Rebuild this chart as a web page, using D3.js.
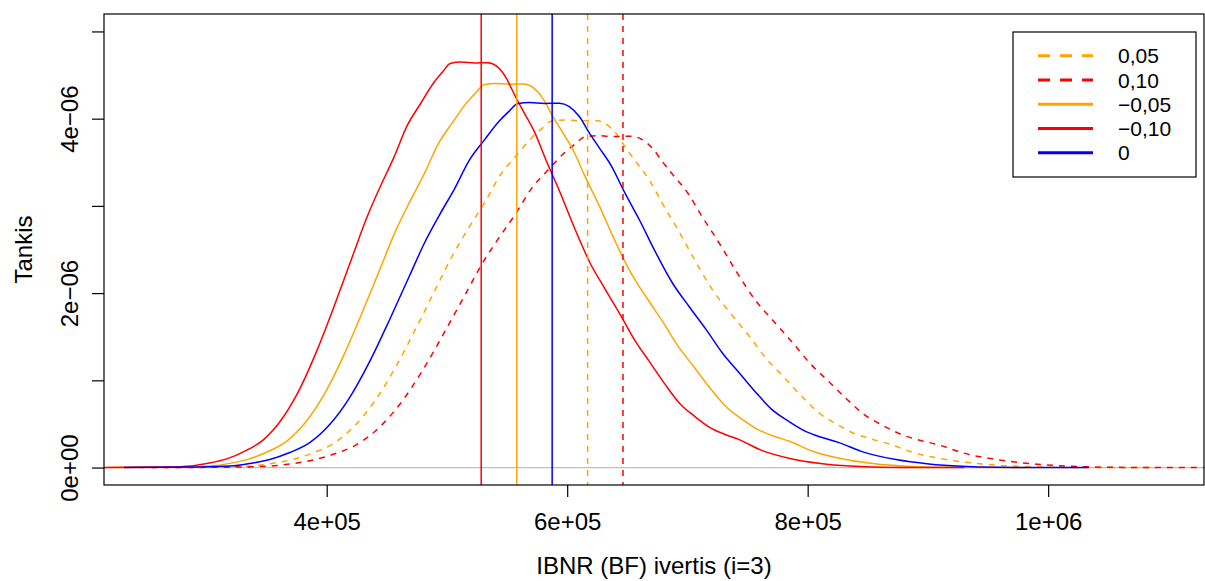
<!DOCTYPE html>
<html>
<head>
<meta charset="utf-8">
<script src="https://cdn.jsdelivr.net/npm/d3@7"></script>
<style>
  body { margin: 0; background: #fff; }
  text { font-family: "Liberation Sans", Arial, Helvetica, sans-serif; }
</style>
</head>
<body>
<div id="chart-area"></div>
<script>
// density curves: x in thousands, density in 1e-6
const seriesNames = ["0,05", "0,10", "\u22120,05", "\u22120,10", "0"];
const meanValues = [617.0, 646.4, 558.1, 528.5, 587.5];

const x0_k = [231.4, 294.5, 319.4, 336.0, 352.7, 369.3, 385.9, 402.5, 419.1, 435.7, 452.3, 468.9, 481.4, 493.9, 506.3, 518.8, 531.2, 543.7, 552.0, 558.6, 568.6, 581.1, 593.5, 601.8, 610.1, 618.4, 626.7, 636.7, 646.7, 660.0, 673.3, 687.4, 701.5, 715.6, 728.9, 743.0, 757.1, 770.4, 784.5, 798.7, 812.0, 826.1, 845.2, 873.4, 900.8, 928.2, 956.5, 992.2, 1033.7];
const y0_u = [0, 0.006, 0.017, 0.046, 0.092, 0.172, 0.286, 0.493, 0.802, 1.214, 1.695, 2.199, 2.577, 2.898, 3.196, 3.528, 3.757, 3.975, 4.089, 4.170, 4.184, 4.175, 4.178, 4.139, 4.024, 3.837, 3.666, 3.459, 3.184, 2.841, 2.474, 2.119, 1.844, 1.581, 1.317, 1.088, 0.859, 0.664, 0.527, 0.412, 0.344, 0.286, 0.183, 0.092, 0.042, 0.015, 0.003, 0, 0];

const xm10_k = [208.3, 265.1, 287.5, 302.4, 317.4, 332.4, 347.3, 362.3, 377.2, 392.1, 407.1, 422.0, 433.3, 444.5, 455.7, 466.9, 478.1, 489.3, 496.8, 502.7, 511.7, 523.0, 534.2, 541.6, 549.1, 556.6, 564.0, 573.0, 582.0, 594.0, 606.0, 618.7, 631.4, 644.0, 656.0, 668.7, 681.4, 693.4, 706.1, 718.8, 730.8, 743.5, 760.7, 786.1, 810.7, 835.4, 860.9, 893.0, 930.3];
const ym10_u = [0, 0.007, 0.019, 0.051, 0.102, 0.191, 0.318, 0.548, 0.891, 1.349, 1.883, 2.443, 2.863, 3.220, 3.551, 3.920, 4.174, 4.417, 4.543, 4.633, 4.649, 4.639, 4.642, 4.599, 4.471, 4.263, 4.073, 3.843, 3.538, 3.157, 2.749, 2.354, 2.049, 1.757, 1.463, 1.209, 0.954, 0.738, 0.586, 0.458, 0.382, 0.318, 0.203, 0.102, 0.047, 0.017, 0.003, 0, 0];

const xm05_k = [219.8, 279.8, 303.4, 319.2, 335.1, 350.8, 366.6, 382.4, 398.1, 413.9, 429.7, 445.5, 457.3, 469.2, 481.0, 492.9, 504.6, 516.5, 524.4, 530.7, 540.2, 552.0, 563.8, 571.7, 579.6, 587.5, 595.4, 604.9, 614.4, 627.0, 639.6, 653.0, 666.4, 679.8, 692.5, 705.9, 719.2, 731.9, 745.3, 758.8, 771.4, 784.8, 802.9, 829.7, 855.8, 881.8, 908.7, 942.6, 982.0];
const ym05_u = [0, 0.006, 0.018, 0.048, 0.097, 0.181, 0.301, 0.519, 0.844, 1.278, 1.784, 2.315, 2.713, 3.051, 3.364, 3.714, 3.955, 4.184, 4.304, 4.389, 4.404, 4.395, 4.398, 4.357, 4.236, 4.039, 3.859, 3.641, 3.352, 2.991, 2.604, 2.231, 1.941, 1.664, 1.386, 1.145, 0.904, 0.699, 0.555, 0.434, 0.362, 0.301, 0.193, 0.097, 0.044, 0.016, 0.003, 0, 0];

const xp05_k = [243.0, 309.2, 335.4, 352.8, 370.3, 387.8, 405.2, 422.6, 440.1, 457.5, 474.9, 492.3, 505.5, 518.6, 531.6, 544.7, 557.8, 570.9, 579.6, 586.5, 597.0, 610.2, 623.2, 631.9, 640.6, 649.3, 658.0, 668.5, 679.0, 693.0, 707.0, 721.8, 736.6, 751.4, 765.3, 780.2, 795.0, 808.9, 823.7, 838.6, 852.6, 867.4, 887.5, 917.1, 945.8, 974.6, 1004.3, 1041.8, 1085.4];
const yp05_u = [0, 0.006, 0.016, 0.044, 0.088, 0.164, 0.272, 0.470, 0.764, 1.156, 1.614, 2.094, 2.454, 2.760, 3.044, 3.360, 3.578, 3.786, 3.894, 3.971, 3.985, 3.976, 3.979, 3.942, 3.832, 3.654, 3.491, 3.294, 3.032, 2.706, 2.356, 2.018, 1.756, 1.506, 1.254, 1.036, 0.818, 0.632, 0.502, 0.392, 0.328, 0.272, 0.174, 0.088, 0.040, 0.014, 0.003, 0, 0];

const xp10_k = [254.5, 324.0, 351.3, 369.6, 388.0, 406.2, 424.5, 442.8, 461.0, 479.3, 497.5, 515.8, 529.5, 543.3, 556.9, 570.7, 584.3, 598.1, 607.2, 614.5, 625.5, 639.2, 652.9, 662.0, 671.1, 680.2, 689.4, 700.4, 711.4, 726.0, 740.6, 756.1, 771.7, 787.2, 801.8, 817.3, 832.8, 847.4, 863.0, 878.6, 893.2, 908.7, 929.7, 960.7, 990.9, 1021.0, 1052.2, 1091.4, 1137.1];
const yp10_u = [0, 0.005, 0.015, 0.042, 0.084, 0.156, 0.260, 0.448, 0.729, 1.104, 1.541, 1.999, 2.343, 2.635, 2.905, 3.207, 3.415, 3.614, 3.717, 3.791, 3.804, 3.795, 3.798, 3.763, 3.658, 3.488, 3.333, 3.145, 2.895, 2.583, 2.249, 1.926, 1.676, 1.437, 1.197, 0.989, 0.781, 0.604, 0.479, 0.375, 0.313, 0.260, 0.166, 0.084, 0.038, 0.014, 0.003, 0, 0];

const xTicks = [400000, 600000, 800000, 1000000];
const xTickLabels = ["4e+05", "6e+05", "8e+05", "1e+06"];
const yTicks = [0, 1e-6, 2e-6, 3e-6, 4e-6, 5e-6];
const yTickLabels = ["0e+00", "", "2e\u221206", "", "4e\u221206", ""];

// styles per series, same order as seriesNames
const colors = ["orange", "red", "orange", "red", "blue"];
const dashed = [true, true, false, false, false];

const W = 1205, H = 581;
const box = {left: 104, top: 14, right: 1204, bottom: 485};

const svg = d3.select("#chart-area").append("svg")
	.attr("width", W)
	.attr("height", H)
	.style("display", "block")

svg.append("rect").attr("width", W).attr("height", H).attr("fill", "#fff")

const x = d3.scaleLinear()
	.domain([214800, 1129600])
	.range([box.left, box.right])
const y = d3.scaleLinear()
	.domain([-0.2e-6, 5.2e-6])
	.range([box.bottom, box.top])

const toRows = (xs, ys) => xs.map((v, i) => ({x: v * 1000, y: ys[i] * 1e-6}))
const series = [
	toRows(xp05_k, yp05_u),
	toRows(xp10_k, yp10_u),
	toRows(xm05_k, ym05_u),
	toRows(xm10_k, ym10_u),
	toRows(x0_k, y0_u)
]

svg.append("clipPath").attr("id", "clip")
	.append("rect")
	.attr("x", box.left).attr("y", box.top)
	.attr("width", box.right - box.left).attr("height", box.bottom - box.top)

const plot = svg.append("g").attr("clip-path", "url(#clip)")

// zero line
plot.append("line")
	.attr("x1", box.left).attr("x2", box.right)
	.attr("y1", y(0)).attr("y2", y(0))
	.attr("stroke", "#bebebe")
	.attr("stroke-width", 1.2)

const line = d3.line()
	.x(d => x(d.x))
	.y(d => y(d.y))
	.curve(d3.curveMonotoneX)

plot.selectAll("path.dens")
	.data(series)
	.enter().append("path")
	.attr("class", "dens")
	.attr("d", line)
	.attr("fill", "none")
	.attr("stroke", (d, i) => colors[i])
	.attr("stroke-width", 1.5)
	.attr("stroke-dasharray", (d, i) => dashed[i] ? "6,6" : null)

plot.selectAll("line.mean")
	.data(meanValues)
	.enter().append("line")
	.attr("class", "mean")
	.attr("x1", d => x(d * 1000)).attr("x2", d => x(d * 1000))
	.attr("y1", box.top).attr("y2", box.bottom)
	.attr("stroke", (d, i) => colors[i])
	.attr("stroke-width", 1.5)
	.attr("stroke-dasharray", (d, i) => dashed[i] ? "6,6" : null)

// axes
const axisBottom = d3.axisBottom(x)
	.tickValues(xTicks)
	.tickSize(12)
	.tickFormat((d, i) => xTickLabels[i])
const gx = svg.append("g")
	.attr("transform", `translate(0, ${box.bottom})`)
	.call(axisBottom)
gx.select(".domain").remove()
gx.selectAll(".tick line").attr("stroke", "#000").attr("stroke-width", 1.2)
gx.selectAll(".tick text")
	.attr("y", 45).attr("dy", 0)
	.attr("font-size", "24px")
	.attr("fill", "#000")
	.style("font-family", "'Liberation Sans', Arial, sans-serif")

const axisLeft = d3.axisLeft(y)
	.tickValues(yTicks)
	.tickSize(12)
	.tickFormat((d, i) => yTickLabels[i])
const gy = svg.append("g")
	.attr("transform", `translate(${box.left}, 0)`)
	.call(axisLeft)
gy.select(".domain").remove()
gy.selectAll(".tick line").attr("stroke", "#000").attr("stroke-width", 1.2)
gy.selectAll(".tick text")
	.attr("x", 0).attr("y", -26).attr("dy", 0)
	.attr("transform", "rotate(-90)")
	.attr("text-anchor", "middle")
	.attr("font-size", "24px")
	.attr("fill", "#000")
	.style("font-family", "'Liberation Sans', Arial, sans-serif")

// box
svg.append("rect")
	.attr("x", box.left).attr("y", box.top)
	.attr("width", box.right - box.left).attr("height", box.bottom - box.top)
	.attr("fill", "none")
	.attr("stroke", "#000")
	.attr("stroke-width", 1.2)

// axis titles
svg.append("text")
	.attr("x", (box.left + box.right) / 2)
	.attr("y", 574)
	.attr("text-anchor", "middle")
	.attr("font-size", "24px")
	.text("IBNR (BF) ivertis (i=3)")

svg.append("text")
	.attr("transform", `translate(32, ${(box.top + box.bottom) / 2}) rotate(-90)`)
	.attr("text-anchor", "middle")
	.attr("font-size", "24px")
	.text("Tankis")

// legend
const legend = svg.append("g")
legend.append("rect")
	.attr("x", 1013).attr("y", 32)
	.attr("width", 183).attr("height", 145)
	.attr("fill", "#fff")
	.attr("stroke", "#000")
	.attr("stroke-width", 1.2)

const rows = legend.selectAll("g.row")
	.data(seriesNames)
	.enter().append("g")
	.attr("class", "row")
	.attr("transform", (d, i) => `translate(0, ${55.7 + i * 24.25})`)

rows.append("line")
	.attr("x1", 1038).attr("x2", 1093)
	.attr("stroke", (d, i) => colors[i])
	.attr("stroke-width", 3)
	.attr("stroke-dasharray", (d, i) => dashed[i] ? "12,10" : null)

rows.append("text")
	.attr("x", 1118)
	.attr("dy", "0.36em")
	.attr("font-size", "21px")
	.text(d => d)
</script>
</body>
</html>
